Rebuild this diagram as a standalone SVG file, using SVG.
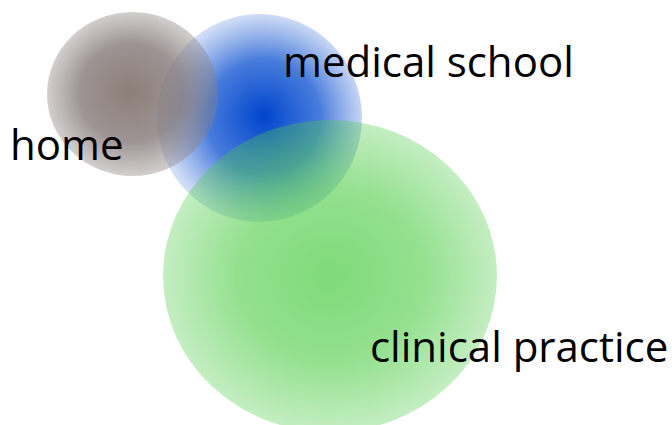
<svg xmlns="http://www.w3.org/2000/svg" width="672" height="425" viewBox="0 0 672 425">
<style>
.lbl{font-family:"Open Sans","Noto Sans","Liberation Sans",sans-serif;font-size:42px;fill:#000}
</style>
<defs>
<radialGradient id="gBlue" cx="0.52" cy="0.5" r="0.5" fx="0.52" fy="0.49">
<stop offset="0" stop-color="#0044cc" stop-opacity="1"/>
<stop offset="0.55" stop-color="#0a50d0" stop-opacity="0.75"/>
<stop offset="1" stop-color="#2a64d6" stop-opacity="0.22"/>
</radialGradient>
<radialGradient id="gHome" cx="0.5" cy="0.5" r="0.5" fx="0.48" fy="0.48">
<stop offset="0" stop-color="#85786f" stop-opacity="0.95"/>
<stop offset="0.6" stop-color="#85797a" stop-opacity="0.8"/>
<stop offset="1" stop-color="#8a8080" stop-opacity="0.38"/>
</radialGradient>
<radialGradient id="gGreen" cx="0.5" cy="0.5" r="0.5">
<stop offset="0" stop-color="#4ccc44" stop-opacity="0.72"/>
<stop offset="0.55" stop-color="#4ccc44" stop-opacity="0.6"/>
<stop offset="1" stop-color="#4ccc44" stop-opacity="0.33"/>
</radialGradient>
</defs>
<g id="medical-school">
<ellipse cx="259.5" cy="118" rx="102.5" ry="104" fill="url(#gBlue)"/>
<text class="lbl" x="283" y="77">medical school</text>
</g>
<g id="home">
<ellipse cx="132.5" cy="94" rx="85.5" ry="82" fill="url(#gHome)"/>
<text class="lbl" x="10" y="160">home</text>
</g>
<g id="clinical-practice">
<ellipse cx="330" cy="276" rx="167" ry="156" fill="url(#gGreen)"/>
<text class="lbl" x="370" y="362">clinical practice</text>
</g>
<g id="connectors"/>
</svg>
